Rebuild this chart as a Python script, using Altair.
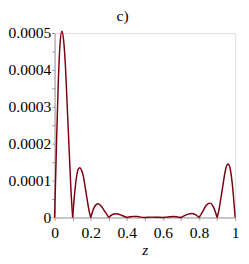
import altair as alt
import pandas as pd

# hump data (each hump between consecutive zeros)
h1_z = [0.0, 0.01, 0.02, 0.03, 0.04, 0.05, 0.06, 0.07, 0.08, 0.09, 0.1]
h1_y = [0, 0.00019, 0.00036, 0.00047, 0.000505, 0.00048, 0.00041, 0.00030, 0.00019, 0.00008, 0]
h2_z = [0.1, 0.11, 0.12, 0.13, 0.14, 0.15, 0.16, 0.17, 0.18, 0.19, 0.2]
h2_y = [0, 0.00006, 0.000105, 0.00013, 0.000135, 0.000127, 0.00011, 0.00008, 0.00005, 0.00002, 0]
h3_z = [0.2, 0.22, 0.24, 0.26, 0.28, 0.3]
h3_y = [0, 0.000028, 0.000037, 0.00003, 0.000015, 0]
h4_z = [0.3, 0.32, 0.34, 0.36, 0.38, 0.4]
h4_y = [0, 0.000008, 0.00001, 0.000008, 0.000004, 0]
h5_z = [0.4, 0.42, 0.44, 0.46, 0.48, 0.5]
h5_y = [0, 0.000002, 0.000003, 0.0000025, 0.000001, 0]
h6_z = [0.5, 0.52, 0.54, 0.56, 0.58, 0.6]
h6_y = [0, 0.0000008, 0.000001, 0.0000009, 0.0000005, 0]
h7_z = [0.6, 0.62, 0.64, 0.66, 0.68, 0.7]
h7_y = [0, 0.000001, 0.000002, 0.0000025, 0.0000015, 0]
h8_z = [0.7, 0.72, 0.74, 0.76, 0.78, 0.8]
h8_y = [0, 0.000005, 0.000009, 0.000011, 0.000008, 0]
h9_z = [0.8, 0.82, 0.84, 0.86, 0.88, 0.9]
h9_y = [0, 0.000016, 0.000033, 0.000039, 0.000028, 0]
h10_z = [0.9, 0.91, 0.92, 0.93, 0.94, 0.95, 0.96, 0.97, 0.98, 0.99, 1.0]
h10_y = [0, 0.00002, 0.00005, 0.00008, 0.000112, 0.000136, 0.000145, 0.000137, 0.000108, 0.00006, 0]

humps = [(h1_z, h1_y), (h2_z, h2_y), (h3_z, h3_y), (h4_z, h4_y), (h5_z, h5_y),
         (h6_z, h6_y), (h7_z, h7_y), (h8_z, h8_y), (h9_z, h9_y), (h10_z, h10_y)]

rows = []
for i, (zs, ys) in enumerate(humps):
    for j, (zv, yv) in enumerate(zip(zs, ys)):
        rows.append({"z": zv, "y": yv, "hump": i, "order": j})
df = pd.DataFrame(rows)

x_ticks = [round(i * 0.1, 1) for i in range(11)]
y_ticks = [round(i * 0.00005, 6) for i in range(11)]

font = "Liberation Serif"

chart = alt.Chart(df).mark_line(
    color="#7A0010", strokeWidth=1.5, interpolate="monotone", clip=False
).encode(
    x=alt.X("z:Q", scale=alt.Scale(domain=[0, 1], nice=False),
            axis=alt.Axis(values=x_ticks, title="z", grid=False,
                          labelExpr="round(datum.value*10) % 2 == 0 ? (datum.value == 0 ? '0' : (datum.value == 1 ? '1' : format(datum.value, '.1f'))) : ''",
                          titleFontStyle="italic", titleFontWeight="normal",
                          titleFontSize=16, titlePadding=1,
                          labelFontSize=16, labelPadding=5,
                          tickSize=3, tickColor="#9a9a9a", domainColor="#9a9a9a",
                          labelColor="black", titleColor="black", labelFlush=False)),
    y=alt.Y("y:Q", scale=alt.Scale(domain=[0, 0.0005], nice=False),
            axis=alt.Axis(values=y_ticks, title=None, grid=False,
                          labelExpr="round(datum.value*20000) % 2 == 0 ? (datum.value == 0 ? '0' : format(datum.value, '.4f')) : ''",
                          labelFontSize=16, labelPadding=1,
                          tickSize=3, tickColor="#9a9a9a", domainColor="#9a9a9a",
                          labelColor="black")),
    detail="hump:N",
    order="order:Q",
).properties(
    width=186, height=190,
    title=alt.TitleParams("c)", fontSize=16, fontWeight="normal",
                          offset=1, dx=-23, color="black"),
    autosize=alt.AutoSizeParams(type="none"),
    padding={"left": 48, "top": 22, "right": 6, "bottom": 40},
).configure_view(stroke=None).configure(font=font).configure_axis(
    labelFont=font, titleFont=font
).configure_title(font=font)

chart.save("out.html", embed_options={"renderer": "svg", "actions": False})
